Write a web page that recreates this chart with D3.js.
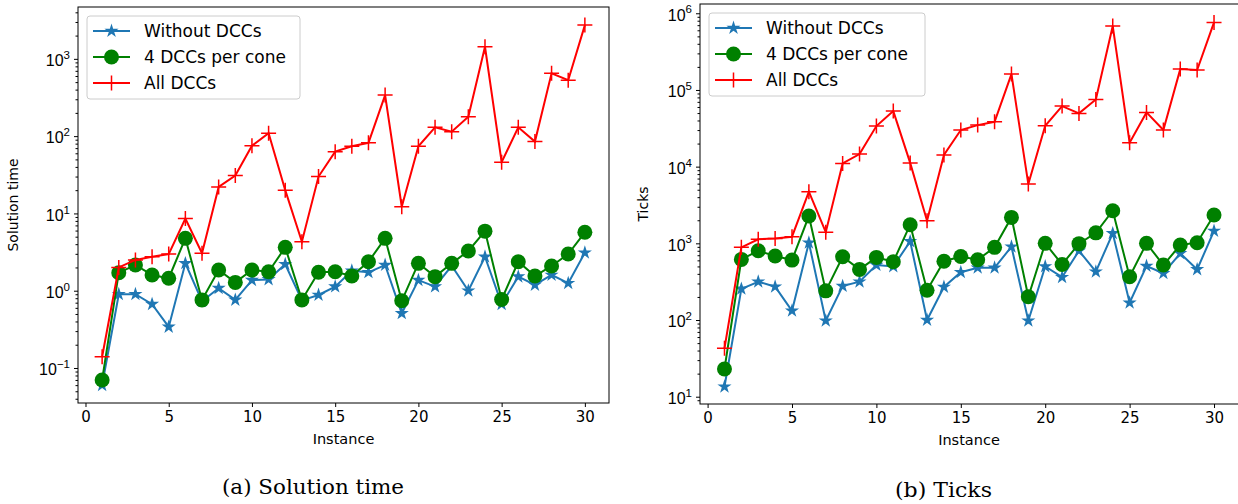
<!DOCTYPE html>
<html>
<head>
<meta charset="utf-8">
<script src="https://cdn.jsdelivr.net/npm/d3@7"></script>
<style>
  body { margin: 0; background: #fff; }
  svg { display: block; font-family: "DejaVu Sans", sans-serif; }
</style>
</head>
<body>
<svg id="chart" width="1238" height="504"></svg>
<script>
// instances on the x axis
const instances = d3.range(1, 31)

// (a) solution time
const timeWithout = [0.06, 0.9, 0.9, 0.67, 0.34, 2.26, 0.73, 1.08, 0.76, 1.37, 1.4, 2.2, 0.75, 0.88, 1.13, 1.81, 1.73, 2.15, 0.51, 1.37, 1.13, 2.1, 1.0, 2.75, 0.67, 1.52, 1.19, 1.6, 1.25, 3.1]
const timeFour = [0.07, 1.71, 2.15, 1.6, 1.45, 4.76, 0.76, 1.85, 1.28, 1.85, 1.76, 3.64, 0.76, 1.73, 1.76, 1.55, 2.37, 4.76, 0.74, 2.26, 1.52, 2.26, 3.27, 5.9, 0.77, 2.37, 1.55, 2.09, 2.98, 5.7]
const timeAll = [0.14, 2.0, 2.5, 2.75, 2.98, 8.6, 3.05, 22, 31, 75, 109, 20, 4.3, 30, 63, 74, 82, 340, 12.2, 74, 130, 114, 178, 1435, 46, 130, 85, 650, 530, 2735]

// (b) ticks
const ticksWithout = [13.5, 255, 316, 272, 132, 1020, 98, 277, 316, 521, 500, 1060, 100, 270, 420, 480, 480, 903, 98, 500, 362, 800, 427, 1350, 168, 506, 407, 740, 457, 1450]
const ticksFour = [23, 617, 800, 683, 605, 2270, 240, 668, 457, 656, 575, 1750, 245, 585, 675, 610, 887, 2180, 201, 1000, 530, 990, 1370, 2660, 367, 1000, 521, 950, 1020, 2340]
const ticksAll = [42.8, 887, 1130, 1160, 1220, 4710, 1400, 11000, 14600, 33800, 53000, 11200, 1970, 14200, 30000, 34800, 38500, 161000, 5930, 34100, 61600, 49500, 75300, 681000, 20500, 51000, 30000, 187000, 182000, 760000]

const seriesNames = ['Without DCCs', '4 DCCs per cone', 'All DCCs']
const xTicks = [0, 5, 10, 15, 20, 25, 30]

const colors = ['#1f77b4', 'green', 'red']

const svg = d3.select('#chart')

function drawMarker(sel, i) {
    if (i == 0) {
        sel.append('path')
            .attr('d', d3.symbol().type(d3.symbolStar).size(62)())
            .attr('fill', colors[0])
    } else if (i == 1) {
        sel.append('circle').attr('r', 7.5).attr('fill', colors[1])
    } else {
        sel.append('path')
            .attr('d', 'M-7.5,0H7.5M0,-7.5V7.5')
            .attr('stroke', colors[2])
            .attr('stroke-width', 1.5)
            .attr('fill', 'none')
    }
}

function panel(opts) {
    const g = svg.append('g')
    const x = d3.scaleLinear().domain([-0.45, 31.45]).range([opts.left, opts.right])
    const y = d3.scaleLog().domain(opts.yDomain).range([opts.bottom, opts.top])

    // frame
    g.append('rect')
        .attr('x', opts.left).attr('y', opts.top)
        .attr('width', opts.right - opts.left).attr('height', opts.bottom - opts.top)
        .attr('fill', 'none').attr('stroke', '#000').attr('stroke-width', 1)

    // x axis
    const xAxis = g.append('g')
        .attr('transform', `translate(0,${opts.bottom})`)
        .call(d3.axisBottom(x).tickValues(xTicks).tickSize(4).tickPadding(4))
    xAxis.select('.domain').remove()
    xAxis.selectAll('text').attr('font-size', 15).attr('font-family', 'DejaVu Sans').attr('fill', '#000')

    // y axis: majors at decades, minors at 2..9
    const lo = Math.floor(Math.log10(opts.yDomain[0]))
    const hi = Math.ceil(Math.log10(opts.yDomain[1]))
    const majors = [], minors = []
    for (let e = lo; e <= hi; e++) {
        const v = Math.pow(10, e)
        if (v >= opts.yDomain[0] && v <= opts.yDomain[1]) majors.push(v)
        for (let k = 2; k <= 9; k++) {
            const m = k * v
            if (m >= opts.yDomain[0] && m <= opts.yDomain[1]) minors.push(m)
        }
    }
    const yMinor = g.append('g')
        .attr('transform', `translate(${opts.left},0)`)
        .call(d3.axisLeft(y).tickValues(minors).tickSize(2.5).tickFormat(''))
    yMinor.select('.domain').remove()

    const yAxis = g.append('g')
        .attr('transform', `translate(${opts.left},0)`)
        .call(d3.axisLeft(y).tickValues(majors).tickSize(4).tickPadding(4).tickFormat(''))
    yAxis.select('.domain').remove()
    yAxis.selectAll('.tick text').each(function(d) {
        const t = d3.select(this)
        const e = Math.round(Math.log10(d))
        t.attr('font-size', 16).attr('fill', '#000').attr('dy', '0.42em')
        t.append('tspan').text('10')
        t.append('tspan').attr('font-size', 11.5).attr('dy', '-0.62em')
            .text(e < 0 ? '\u2212' + (-e) : e)
    })

    // axis labels
    g.append('text')
        .attr('x', (opts.left + Math.min(opts.right, 1238)) / 2)
        .attr('y', opts.bottom + 41)
        .attr('text-anchor', 'middle').attr('font-size', 14.5)
        .text('Instance')
    g.append('text')
        .attr('transform', `translate(${opts.ylabelX},${(opts.top + opts.bottom) / 2}) rotate(-90)`)
        .attr('text-anchor', 'middle').attr('font-size', 14)
        .text(opts.ylabel)

    // lines and markers
    const line = d3.line().x((d, i) => x(instances[i])).y(d => y(d))
    opts.series.forEach((vals, si) => {
        g.append('path')
            .attr('d', line(vals))
            .attr('fill', 'none')
            .attr('stroke', colors[si])
            .attr('stroke-width', 2)
        const pts = g.append('g').selectAll('g')
            .data(vals)
            .enter()
            .append('g')
            .attr('transform', (d, i) => `translate(${x(instances[i])},${y(d)})`)
        pts.each(function() { drawMarker(d3.select(this), si) })
    })

    // legend
    const lg = g.append('g').attr('transform', `translate(${opts.legendX},${opts.legendY})`)
    lg.append('rect')
        .attr('width', opts.legendW).attr('height', 83)
        .attr('rx', 3)
        .attr('fill', 'rgba(255,255,255,0.8)')
        .attr('stroke', '#cccccc').attr('stroke-width', 1)
    seriesNames.forEach((name, i) => {
        const row = lg.append('g').attr('transform', `translate(0,${15 + i * 26})`)
        row.append('line')
            .attr('x1', 6).attr('x2', 43)
            .attr('stroke', colors[i]).attr('stroke-width', 2)
        const m = row.append('g').attr('transform', 'translate(24.5,0)')
        drawMarker(m, i)
        row.append('text')
            .attr('x', 57).attr('dy', '0.36em')
            .attr('font-size', 17)
            .text(name)
    })

    // caption
    svg.append('text')
        .attr('x', opts.captionX)
        .attr('y', opts.captionY)
        .attr('font-family', 'DejaVu Serif')
        .attr('font-size', 20)
        .attr('textLength', opts.captionW)
        .attr('lengthAdjust', 'spacingAndGlyphs')
        .text(opts.caption)
}

panel({
    left: 78, right: 609, top: 7, bottom: 403,
    yDomain: [Math.pow(10, -1.453), Math.pow(10, 3.671)],
    series: [timeWithout, timeFour, timeAll],
    ylabel: 'Solution time', ylabelX: 18,
    legendX: 87, legendY: 16, legendW: 213,
    caption: '(a) Solution time', captionX: 222, captionY: 494, captionW: 182
})

panel({
    left: 700, right: 1238.5, top: 4, bottom: 404,
    yDomain: [Math.pow(10, 0.905), Math.pow(10, 6.121)],
    series: [ticksWithout, ticksFour, ticksAll],
    ylabel: 'Ticks', ylabelX: 648,
    legendX: 709, legendY: 13, legendW: 216,
    caption: '(b) Ticks', captionX: 895, captionY: 497, captionW: 97
})
</script>
</body>
</html>
